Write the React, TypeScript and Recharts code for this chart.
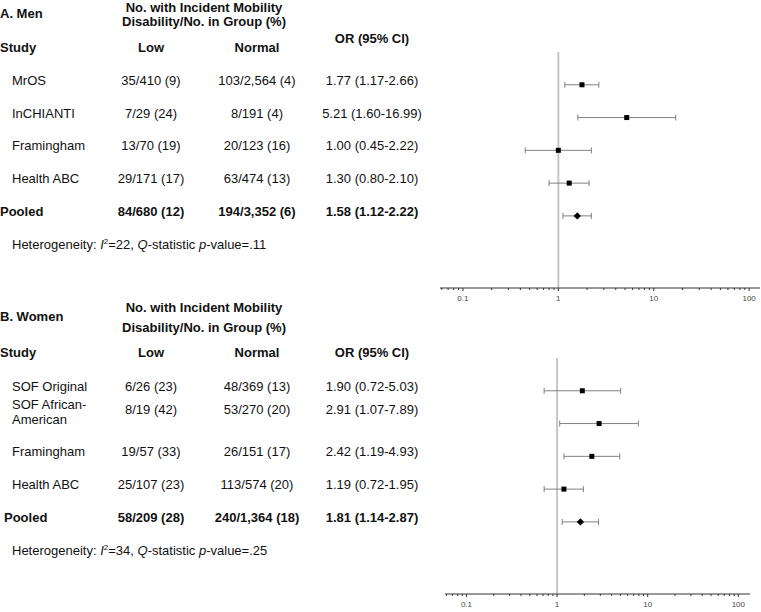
import {
  ScatterChart,
  Scatter,
  XAxis,
  YAxis,
  ErrorBar,
  ReferenceLine,
} from "recharts";

const FONT = '"Liberation Sans", Arial, sans-serif';

// A. Men
const menStudies = ["MrOS", "InCHIANTI", "Framingham", "Health ABC"];
const menLow = ["35/410 (9)", "7/29 (24)", "13/70 (19)", "29/171 (17)"];
const menNormal = ["103/2,564 (4)", "8/191 (4)", "20/123 (16)", "63/474 (13)"];
const menOr = [1.77, 5.21, 1.0, 1.3];
const menLower = [1.17, 1.6, 0.45, 0.8];
const menUpper = [2.66, 16.99, 2.22, 2.1];
const menPooledCounts = ["84/680 (12)", "194/3,352 (6)"];
const menPooledOr = [1.58, 1.12, 2.22];
const menHet = ["22", ".11"];

// B. Women
const womenStudies = ["SOF Original", "SOF African-\nAmerican", "Framingham", "Health ABC"];
const womenLow = ["6/26 (23)", "8/19 (42)", "19/57 (33)", "25/107 (23)"];
const womenNormal = ["48/369 (13)", "53/270 (20)", "26/151 (17)", "113/574 (20)"];
const womenOr = [1.9, 2.91, 2.42, 1.19];
const womenLower = [0.72, 1.07, 1.19, 0.72];
const womenUpper = [5.03, 7.89, 4.93, 1.95];
const womenPooledCounts = ["58/209 (28)", "240/1,364 (18)"];
const womenPooledOr = [1.81, 1.14, 2.87];
const womenHet = ["34", ".25"];

const majorTicks = [0.1, 1, 10, 100];
const minorSteps = [2, 3, 4, 5, 6, 7, 8, 9];
const rowTicks = [1, 2, 3, 4, 5, 6];

const COL_LOW = 151;
const COL_NORMAL = 257;
const COL_OR = 372;

type Panel = {
  studies: string[];
  low: string[];
  normal: string[];
  or: number[];
  lower: number[];
  upper: number[];
  pooledCounts: string[];
  pooledOr: number[];
  het: string[];
  pooledX: number;
};

const fmtOr = (o: number, l: number, u: number) =>
  `${o.toFixed(2)} (${l.toFixed(2)}-${u.toFixed(2)})`;

function logTicks(domain: number[]) {
  const all: number[] = [...majorTicks];
  [0.01, ...majorTicks].forEach((m) =>
    minorSteps.forEach((s) => all.push(m * s))
  );
  return all.filter((v) => v >= domain[0] && v <= domain[1]).sort((a, b) => a - b);
}

const LogTick = (props: any) => {
  const { x, y, payload } = props;
  const v = payload.value;
  const major = majorTicks.includes(v);
  return (
    <g>
      <line x1={x} x2={x} y1={y} y2={y + (major ? 3 : 2)} stroke="#333" />
      {major && (
        <text x={x} y={y + 13} textAnchor="middle" fontSize={8} fill="#444" fontFamily={FONT}>
          {v}
        </text>
      )}
    </g>
  );
};

const Square = (props: any) => {
  const { cx, cy } = props;
  return <rect x={cx - 2.5} y={cy - 2.5} width={5} height={5} fill="#000" />;
};

const Diamond = (props: any) => {
  const { cx, cy } = props;
  const r = 3.7;
  return (
    <polygon
      points={`${cx},${cy - r} ${cx + r},${cy} ${cx},${cy + r} ${cx - r},${cy}`}
      fill="#000"
    />
  );
};

function makeRowTick(p: Panel) {
  return (props: any) => {
    const { y, payload } = props;
    const r = payload.value as number;
    const base = { fontFamily: FONT, fontSize: 13, fill: "#111" };
    if (r <= p.studies.length) {
      const i = r - 1;
      const lines = p.studies[i].split("\n");
      const vy = lines.length > 1 ? y - 9.5 : y;
      return (
        <g>
          {lines.map((ln, k) => (
            <text key={k} x={12} y={y - (lines.length - 1 - k) * 15} {...base}>
              {ln}
            </text>
          ))}
          <text x={COL_LOW} y={vy} textAnchor="middle" {...base}>{p.low[i]}</text>
          <text x={COL_NORMAL} y={vy} textAnchor="middle" {...base}>{p.normal[i]}</text>
          <text x={COL_OR} y={vy} textAnchor="middle" {...base}>
            {fmtOr(p.or[i], p.lower[i], p.upper[i])}
          </text>
        </g>
      );
    }
    if (r === p.studies.length + 1) {
      return (
        <g fontWeight="bold">
          <text x={p.pooledX} y={y} {...base}>Pooled</text>
          <text x={COL_LOW} y={y} textAnchor="middle" {...base}>{p.pooledCounts[0]}</text>
          <text x={COL_NORMAL} y={y} textAnchor="middle" {...base}>{p.pooledCounts[1]}</text>
          <text x={COL_OR} y={y} textAnchor="middle" {...base}>
            {fmtOr(p.pooledOr[0], p.pooledOr[1], p.pooledOr[2])}
          </text>
        </g>
      );
    }
    return (
      <text x={12} y={y} {...base}>
        {"Heterogeneity: "}
        <tspan fontStyle="italic">I</tspan>
        <tspan dy={-5} fontSize={8}>2</tspan>
        <tspan dy={5}>{`=${p.het[0]}, `}</tspan>
        <tspan fontStyle="italic">Q</tspan>
        {"-statistic "}
        <tspan fontStyle="italic">p</tspan>
        {`-value=${p.het[1]}`}
      </text>
    );
  };
}

function ForestPanel({
  panel,
  top,
  plotLeft,
  plotRight,
  domain,
}: {
  panel: Panel;
  top: number;
  plotLeft: number;
  plotRight: number;
  domain: number[];
}) {
  const studyPoints = panel.or.map((o, i) => ({
    x: o,
    y: i + 1,
    err: [o - panel.lower[i], panel.upper[i] - o],
  }));
  const [po, pl, pu] = panel.pooledOr;
  const pooledPoints = [{ x: po, y: panel.or.length + 1, err: [po - pl, pu - po] }];

  return (
    <div style={{ position: "absolute", left: 0, top }}>
      <ScatterChart
        width={761}
        height={310}
        margin={{ top: 52, right: 761 - plotRight, bottom: 0, left: 0 }}
      >
        <XAxis
          type="number"
          dataKey="x"
          scale="log"
          domain={domain}
          allowDataOverflow
          ticks={logTicks(domain)}
          interval={0}
          tick={<LogTick />}
          tickLine={false}
          tickSize={0}
          tickMargin={0}
          axisLine={{ stroke: "#333" }}
          height={22}
        />
        <YAxis
          type="number"
          dataKey="y"
          domain={[0, 7.2]}
          reversed
          allowDataOverflow
          ticks={rowTicks}
          interval={0}
          width={plotLeft}
          tick={makeRowTick(panel)}
          axisLine={false}
          tickLine={false}
          tickSize={0}
          tickMargin={0}
        />
        <ReferenceLine x={1} stroke="#c6c6c6" strokeWidth={2} />
        <Scatter data={studyPoints} shape={Square} isAnimationActive={false}>
          <ErrorBar
            dataKey="err"
            direction="x"
            width={3}
            stroke="#808080"
            strokeWidth={1}
            isAnimationActive={false}
          />
        </Scatter>
        <Scatter data={pooledPoints} shape={Diamond} isAnimationActive={false}>
          <ErrorBar
            dataKey="err"
            direction="x"
            width={3}
            stroke="#808080"
            strokeWidth={1}
            isAnimationActive={false}
          />
        </Scatter>
      </ScatterChart>
    </div>
  );
}

const menPanel: Panel = {
  studies: menStudies,
  low: menLow,
  normal: menNormal,
  or: menOr,
  lower: menLower,
  upper: menUpper,
  pooledCounts: menPooledCounts,
  pooledOr: menPooledOr,
  het: menHet,
  pooledX: 0,
};

const womenPanel: Panel = {
  studies: womenStudies,
  low: womenLow,
  normal: womenNormal,
  or: womenOr,
  lower: womenLower,
  upper: womenUpper,
  pooledCounts: womenPooledCounts,
  pooledOr: womenPooledOr,
  het: womenHet,
  pooledX: 4,
};

function Headers() {
  const t = { fontFamily: FONT, fontSize: 13, fontWeight: "bold" as const, fill: "#111" };
  return (
    <svg
      width={761}
      height={612}
      style={{ position: "absolute", left: 0, top: 0, pointerEvents: "none" }}
    >
      <text x={0} y={18} {...t}>A. Men</text>
      <text x={204} y={11.5} textAnchor="middle" {...t}>No. with Incident Mobility</text>
      <text x={204} y={26} textAnchor="middle" {...t}>Disability/No. in Group (%)</text>
      <text x={0} y={52} {...t}>Study</text>
      <text x={COL_LOW} y={52} textAnchor="middle" {...t}>Low</text>
      <text x={COL_NORMAL} y={52} textAnchor="middle" {...t}>Normal</text>
      <text x={COL_OR} y={43} textAnchor="middle" {...t}>OR (95% CI)</text>

      <text x={0} y={321} {...t}>B. Women</text>
      <text x={204} y={312} textAnchor="middle" {...t}>No. with Incident Mobility</text>
      <text x={204} y={331.5} textAnchor="middle" {...t}>Disability/No. in Group (%)</text>
      <text x={0} y={356.5} {...t}>Study</text>
      <text x={COL_LOW} y={356.5} textAnchor="middle" {...t}>Low</text>
      <text x={COL_NORMAL} y={356.5} textAnchor="middle" {...t}>Normal</text>
      <text x={COL_OR} y={356.5} textAnchor="middle" {...t}>OR (95% CI)</text>
    </svg>
  );
}

export default function App() {
  return (
    <div
      style={{
        position: "absolute",
        left: 0,
        top: 0,
        width: 761,
        height: 612,
        background: "#fff",
        fontFamily: FONT,
      }}
    >
      <ForestPanel panel={menPanel} top={0} plotLeft={440} plotRight={760} domain={[0.0575, 130]} />
      <ForestPanel panel={womenPanel} top={306} plotLeft={445} plotRight={750} domain={[0.058, 134.6]} />
      <Headers />
    </div>
  );
}
